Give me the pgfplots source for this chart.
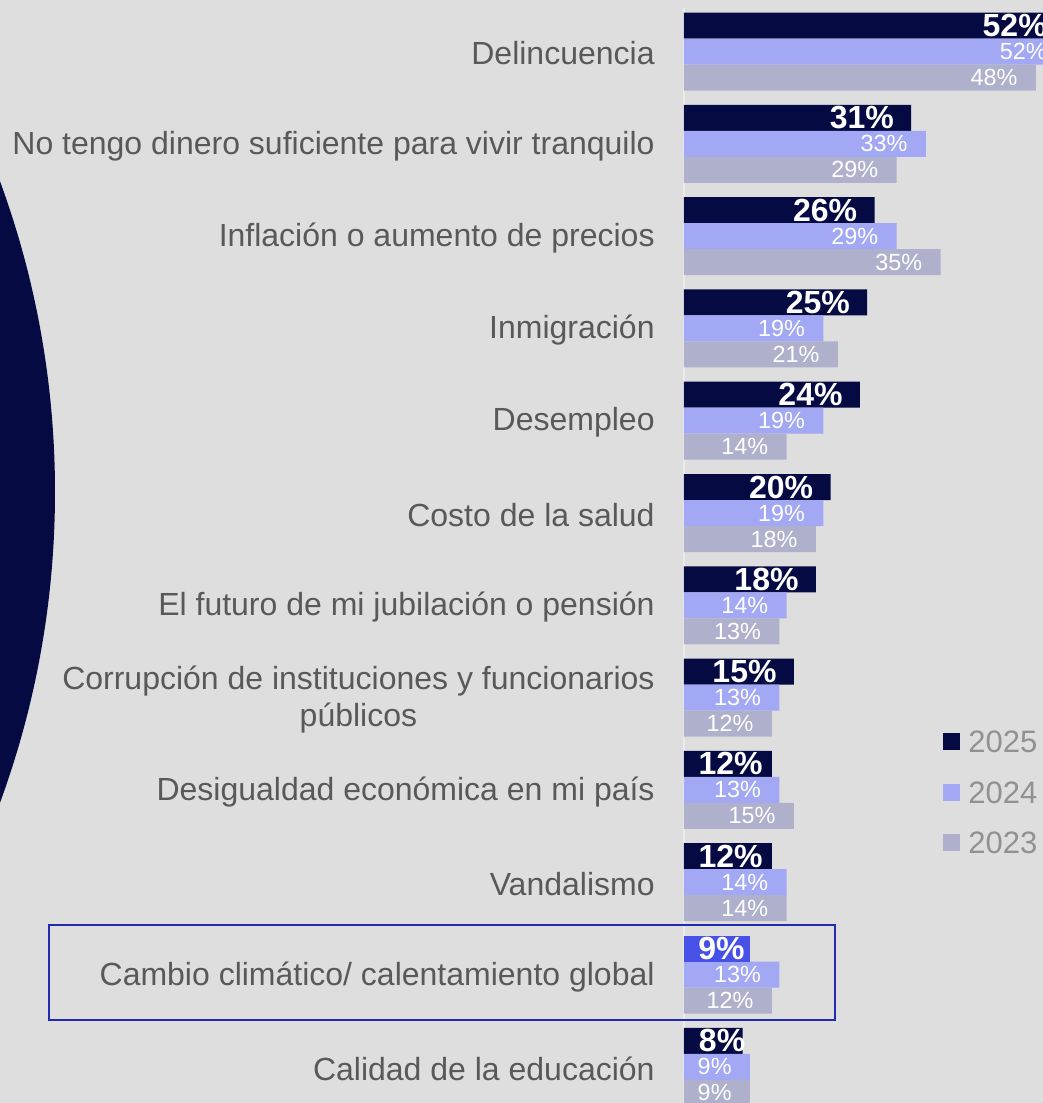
\documentclass[border=0pt]{standalone}
\usepackage{fontspec}
\setmainfont{Liberation Sans}
\usepackage{pgfplots}
\usepackage{pgfplotstable}
\pgfplotsset{compat=1.18}
\definecolor{bg}{HTML}{DEDEDE}
\definecolor{navy}{HTML}{050A42}
\definecolor{c24}{HTML}{A2A8F4}
\definecolor{c23}{HTML}{AFB0CC}
\definecolor{hl}{HTML}{4751E8}
\definecolor{boxc}{HTML}{1F2AB5}
\definecolor{cattext}{HTML}{595959}
\definecolor{legtext}{HTML}{919191}
\definecolor{axline}{HTML}{EBEBEB}

% 2025 (highlighted row 10 separately)
\pgfplotstableread{
y x off
-0.2818 52 -9
0.7182 31 -8.5
1.7182 26 -8.5
2.7182 25 -8.5
3.7182 24 -8.5
4.7182 20 -8.5
5.7182 18 -8.5
6.7182 15 -8.5
7.7182 12 -4.5
8.7182 12 -4.5
10.7182 8 1.5
}\tabA
\pgfplotstableread{
y x off
9.7182 9 -2.5
}\tabAh
% 2024
\pgfplotstableread{
y x off
0 52 -9
1 33 -9
2 29 -9
3 19 -9
4 19 -9
5 19 -9
6 14 -9
7 13 -9
8 13 -9
9 14 -9
10 13 -9
11 9 -9
}\tabB
% 2023
\pgfplotstableread{
y x off
0.2818 48 -9
1.2818 29 -9
2.2818 35 -9
3.2818 21 -9
4.2818 14 -9
5.2818 18 -9
6.2818 13 -9
7.2818 12 -9
8.2818 15 -9
9.2818 14 -9
10.2818 12 -9
11.2818 9 -9
}\tabC

\pgfplotsset{
  lbl/.style={nodes near coords={\pgfmathprintnumber[assume math mode=true]{\pgfplotspointmeta}\%},
    point meta=x,
    visualization depends on={\thisrow{off} \as \myoff},
    every node near coord/.append style={anchor=east, xshift=\myoff pt, text=white, inner sep=0pt, font=#1}},
}

\begin{document}
\begin{tikzpicture}
\useasboundingbox (0pt,0pt) rectangle (521.5pt,-551.5pt);
\fill[bg] (0pt,0pt) rectangle (521.5pt,-551.5pt);
\clip (0pt,0pt) rectangle (521.5pt,-551.5pt);
\fill[navy] (-423pt,-246pt) circle (450.5pt);
\begin{axis}[
  at={(342pt,0pt)}, anchor=north west,
  scale only axis, width=219.9pt, height=551.5pt,
  xmin=0, xmax=60, ymin=-0.558, ymax=11.392, y dir=reverse,
  xbar, bar width=13pt, bar shift=0pt,
  /pgf/number format/assume math mode=true,
  axis line style={draw=none}, tick style={draw=none}, major tick length=0pt,
  xtick=\empty, ytick={0,1,2,3,4,5,6,7,8,9,10,11},
  yticklabels={{Delincuencia},{No tengo dinero suficiente para vivir tranquilo},{Inflación o aumento de precios},{Inmigración},{Desempleo},{Costo de la salud},{El futuro de mi jubilación o pensión},{Corrupción de instituciones y funcionarios\\públicos},{Desigualdad económica en mi país},{Vandalismo},{Cambio climático/ calentamiento global},{Calidad de la educación}},
  yticklabel style={font=\fontsize{16}{18.5}\selectfont, text=cattext, align=center, anchor=east, inner sep=0pt, xshift=-14.5pt, yshift=-1pt},
  legend image code/.code={\fill[#1,draw=none] (0pt,-4.25pt) rectangle (8.5pt,4.25pt);},
  legend style={at={(axis cs:35.33,7.351)}, anchor=north west, draw=none, fill=none, inner sep=0pt,
    font=\fontsize{15.5}{18}\selectfont, text=legtext, row sep=14pt,
    nodes={inner sep=0pt, text height=11.2pt, text depth=0pt},
    /tikz/every odd column/.append style={column sep=4pt}},
  legend cell align=left,
  clip=false,
]
\draw[axline, line width=0.6pt] (axis cs:0,-0.47) -- (axis cs:0,11.392);
\addplot[fill=navy, draw=none, lbl={\fontsize{16}{18}\selectfont\bfseries}] table[x=x,y=y] {\tabA};
\addlegendentry{2025}
\addplot[fill=c24, draw=none, lbl={\fontsize{11.7}{14}\selectfont}] table[x=x,y=y] {\tabB};
\addlegendentry{2024}
\addplot[fill=c23, draw=none, lbl={\fontsize{11.7}{14}\selectfont}] table[x=x,y=y] {\tabC};
\addlegendentry{2023}
\addplot[fill=hl, draw=none, forget plot, lbl={\fontsize{16}{18}\selectfont\bfseries}] table[x=x,y=y] {\tabAh};
\end{axis}
\draw[boxc, line width=1.25pt] (24.5pt,-462.5pt) rectangle (417.5pt,-510pt);
\end{tikzpicture}
\end{document}
